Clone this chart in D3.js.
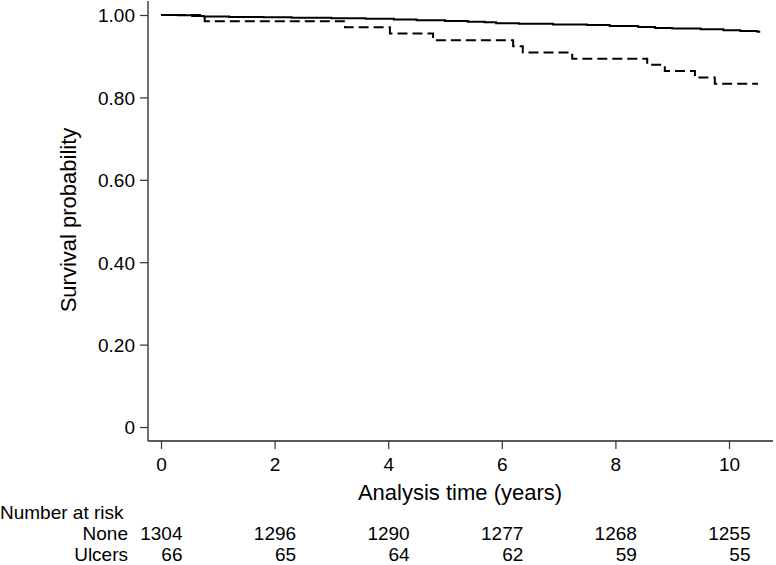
<!DOCTYPE html>
<html>
<head>
<meta charset="utf-8">
<script src="https://cdn.jsdelivr.net/npm/d3@7.9.0/dist/d3.min.js"></script>
<style>
  body { margin: 0; background: #fff; }
  svg { display: block; font-family: "Liberation Sans", Arial, sans-serif; }
</style>
</head>
<body>
<svg width="776" height="565"></svg>
<script>
// Kaplan-Meier steps (time in years, survival)
const noneTimes = [0, 0.3, 0.55, 0.75, 1.2, 1.8, 2.3, 3.0, 3.6, 4.1, 4.5, 5.0, 5.4, 5.7, 5.9, 6.3, 6.9, 7.5, 7.9, 8.4, 8.7, 9.0, 9.5, 9.9, 10.2, 10.5, 10.55];
const noneSurv  = [1.000, 0.9992, 0.9977, 0.9962, 0.9954, 0.9946, 0.9931, 0.9923, 0.9908, 0.9893, 0.9870, 0.9855, 0.9839, 0.9824, 0.9801, 0.9785, 0.9770, 0.9755, 0.9732, 0.9709, 0.9686, 0.9670, 0.9655, 0.9632, 0.9609, 0.9594, 0.9594];

const ulcerTimes = [0, 0.77, 3.24, 4.03, 4.79, 6.20, 6.37, 7.24, 8.56, 8.87, 9.40, 9.75, 10.51];
const ulcerSurv  = [1.000, 0.985, 0.970, 0.955, 0.939, 0.924, 0.909, 0.894, 0.879, 0.864, 0.848, 0.833, 0.833];

const xTicks = [0, 2, 4, 6, 8, 10];
const yTicks = [0, 0.2, 0.4, 0.6, 0.8, 1.0];

const riskGroups = ["None", "Ulcers"];
const riskNone   = [1304, 1296, 1290, 1277, 1268, 1255];
const riskUlcers = [66, 65, 64, 62, 59, 55];

const svg = d3.select("svg");
const x = d3.scaleLinear().domain([0, 10]).range([161, 729]);
const y = d3.scaleLinear().domain([0, 1]).range([427, 15]);

const axisY0 = 441, axisX0 = 148;

// axis lines
svg.append("line")
    .attr("x1", axisX0).attr("x2", axisX0)
    .attr("y1", 1).attr("y2", axisY0)
    .attr("stroke", "#222").attr("stroke-width", 1.3);
svg.append("line")
    .attr("x1", axisX0).attr("x2", 773)
    .attr("y1", axisY0).attr("y2", axisY0)
    .attr("stroke", "#222").attr("stroke-width", 1.3);

// y axis
const gy = svg.append("g")
    .attr("transform", `translate(${axisX0},0)`)
    .call(d3.axisLeft(y).tickValues(yTicks).tickSize(8).tickPadding(5)
        .tickFormat(d => d === 0 ? "0" : d.toFixed(2)));
gy.select(".domain").remove();
gy.selectAll("line").attr("stroke", "#333").attr("stroke-width", 1.2);
gy.selectAll("text").attr("font-size", 19).attr("font-family", null).attr("fill", "#000").attr("dy", "0.36em");
gy.attr("font-family", null);

// x axis
const gx = svg.append("g")
    .attr("transform", `translate(0,${axisY0})`)
    .call(d3.axisBottom(x).tickValues(xTicks).tickSize(8).tickPadding(9));
gx.select(".domain").remove();
gx.selectAll("line").attr("stroke", "#333").attr("stroke-width", 1.2);
gx.selectAll("text").attr("font-size", 19).attr("fill", "#000");
gx.attr("font-family", null);

// titles
svg.append("text")
    .attr("x", 460).attr("y", 500)
    .attr("text-anchor", "middle")
    .attr("font-size", 22)
    .text("Analysis time (years)");
svg.append("text")
    .attr("transform", "translate(76,220) rotate(-90)")
    .attr("text-anchor", "middle")
    .attr("font-size", 22)
    .text("Survival probability");

// curves
const line = d3.line()
    .x(d => x(d[0]))
    .y(d => y(d[1]))
    .curve(d3.curveStepAfter);

svg.append("path")
    .attr("d", line(noneTimes.map((t, i) => [t, noneSurv[i]])))
    .attr("fill", "none").attr("stroke", "#000").attr("stroke-width", 2);

svg.append("path")
    .attr("d", line(ulcerTimes.map((t, i) => [t, ulcerSurv[i]])))
    .attr("fill", "none").attr("stroke", "#000").attr("stroke-width", 2)
    .attr("stroke-dasharray", "10,5");

// number at risk table
svg.append("text")
    .attr("x", 0).attr("y", 519)
    .attr("font-size", 19)
    .text("Number at risk");

const rows = [riskNone, riskUlcers];
const rowY = [540, 561];
riskGroups.forEach((g, r) => {
    svg.append("text")
        .attr("x", 128).attr("y", rowY[r])
        .attr("text-anchor", "end")
        .attr("font-size", 19)
        .text(g);
    svg.selectAll(null)
        .data(rows[r])
        .enter()
        .append("text")
        .attr("x", (_, i) => x(xTicks[i]) + 21.5)
        .attr("y", rowY[r])
        .attr("text-anchor", "end")
        .attr("font-size", 19)
        .text(d => d);
});
</script>
</body>
</html>
